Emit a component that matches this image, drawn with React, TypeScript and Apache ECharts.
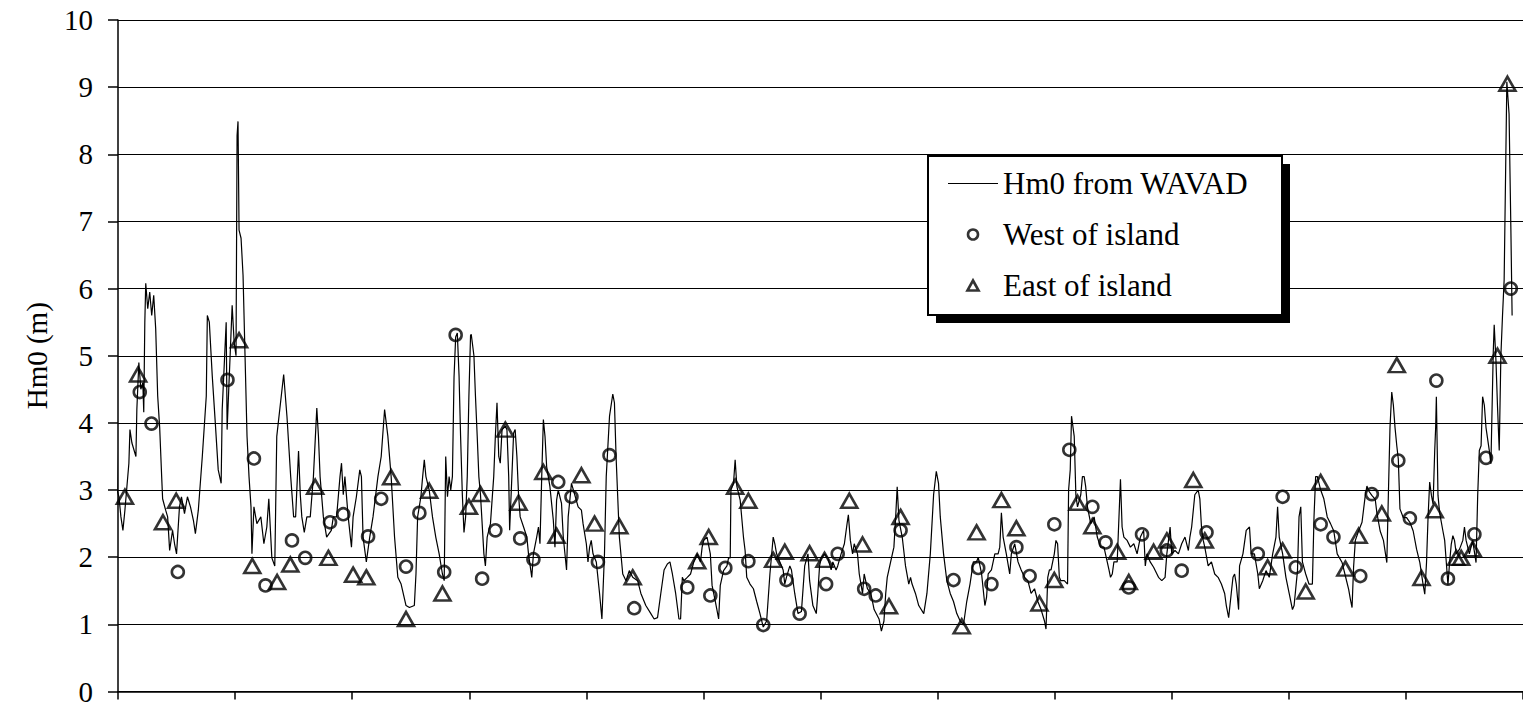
import React, { useEffect, useRef } from "react";
import * as echarts from "echarts";

// y-axis tick values (m)
const yTicks = [0, 1, 2, 3, 4, 5, 6, 7, 8, 9, 10];
// x-axis: time, one tick every 10 units, 12 tick intervals
const xTicks = [0, 10, 20, 30, 40, 50, 60, 70, 80, 90, 100, 110, 120];

const legendNames = ["Hm0 from WAVAD", "West of island", "East of island"];

// Hm0 from WAVAD: [time, Hm0 (m)]
const wavad: [number, number][] = [
  [-0.68, 4.3], [-0.59, 4.75], [-0.51, 3.6], [-0.42, 4.7], [-0.34, 4.4], [-0.25, 4.75], [-0.17, 4.0], [-0.08, 3.0],
  [0.08, 2.9], [0.25, 2.6], [0.42, 2.4], [0.59, 2.7], [0.76, 3.05], [0.93, 3.4], [1.02, 3.9], [1.19, 3.7],
  [1.36, 3.6], [1.53, 3.5], [1.61, 4.2], [1.78, 4.9], [1.95, 4.5], [2.12, 4.6], [2.2, 4.16], [2.29, 5.5],
  [2.37, 6.08], [2.54, 5.7], [2.71, 5.95], [2.88, 5.6], [3.05, 5.9], [3.22, 5.4], [3.39, 4.4], [3.56, 3.93],
  [3.73, 3.2], [3.81, 2.87], [4.07, 2.7], [4.24, 2.6], [4.41, 2.1], [4.66, 2.4], [4.83, 2.2], [5.0, 2.05],
  [5.25, 2.75], [5.42, 2.9], [5.68, 2.65], [5.93, 2.9], [6.19, 2.75], [6.44, 2.55], [6.61, 2.35], [6.86, 2.7],
  [7.2, 3.5], [7.54, 4.4], [7.63, 5.6], [7.8, 5.5], [8.05, 4.7], [8.31, 4.0], [8.56, 3.3], [8.81, 3.1],
  [8.9, 4.2], [9.24, 5.5], [9.32, 3.9], [9.75, 5.75], [9.92, 5.2], [10.08, 5.0], [10.17, 8.28], [10.25, 8.49],
  [10.34, 6.87], [10.51, 6.75], [10.68, 6.2], [10.85, 5.0], [11.02, 3.8], [11.19, 3.2], [11.36, 2.75], [11.44, 2.05],
  [11.61, 2.75], [11.86, 2.5], [12.2, 2.6], [12.46, 2.2], [12.71, 2.45], [12.88, 2.87], [13.14, 1.99], [13.39, 1.87],
  [13.56, 3.8], [14.15, 4.72], [14.43, 4.1], [14.75, 3.2], [15.0, 2.6], [15.17, 2.6], [15.42, 3.58], [15.57, 2.93],
  [15.7, 2.6], [15.91, 2.37], [16.13, 2.6], [16.42, 2.6], [16.69, 3.2], [16.98, 4.22], [17.12, 3.8], [17.26, 3.2],
  [17.54, 2.6], [17.82, 2.3], [18.22, 2.4], [18.39, 2.6], [18.67, 2.6], [18.96, 3.2], [19.09, 3.4], [19.24, 2.93],
  [19.38, 3.2], [19.66, 2.6], [19.94, 2.15], [20.08, 2.6], [20.36, 2.9], [20.65, 3.3], [20.79, 3.2], [20.93, 2.3],
  [21.21, 1.93], [21.5, 2.3], [21.78, 2.6], [22.2, 3.2], [22.48, 3.5], [22.77, 4.2], [23.05, 3.8], [23.33, 3.2],
  [23.62, 2.3], [23.9, 1.7], [24.18, 1.6], [24.6, 1.28], [24.89, 1.25], [25.31, 1.28], [25.45, 1.75], [25.59, 2.6],
  [25.87, 2.9], [26.02, 3.2], [26.16, 3.45], [26.3, 3.2], [26.58, 3.0], [26.86, 2.6], [27.14, 2.3], [27.43, 2.05],
  [27.71, 1.75], [27.86, 1.65], [27.99, 3.5], [28.14, 2.9], [28.28, 3.2], [28.42, 3.0], [28.56, 3.2], [28.7, 4.68],
  [28.84, 5.28], [28.98, 5.34], [29.13, 4.7], [29.26, 3.8], [29.41, 2.93], [29.55, 2.37], [29.69, 2.6], [29.83, 3.2],
  [29.97, 4.4], [30.11, 5.3], [30.17, 5.32], [30.4, 5.0], [30.53, 4.4], [30.68, 3.8], [30.82, 3.2], [30.96, 2.93],
  [31.25, 2.05], [31.38, 1.87], [31.53, 2.3], [31.67, 2.4], [31.81, 2.5], [32.09, 3.2], [32.23, 3.8], [32.37, 4.3],
  [32.52, 3.5], [32.65, 3.4], [32.8, 3.9], [33.08, 3.95], [33.22, 3.9], [33.37, 3.2], [33.45, 2.4], [33.64, 3.2],
  [33.79, 3.85], [33.92, 3.9], [34.07, 3.5], [34.21, 2.93], [34.35, 2.6], [34.64, 2.45], [34.92, 2.3], [35.06, 2.05],
  [35.34, 1.7], [35.48, 2.05], [35.76, 2.3], [35.91, 2.45], [36.04, 2.2], [36.19, 3.2], [36.33, 4.05], [36.47, 3.8],
  [36.61, 3.35], [36.89, 3.05], [37.18, 2.55], [37.32, 2.15], [37.46, 2.85], [37.6, 3.0], [37.74, 2.9], [37.88, 2.8],
  [38.03, 2.3], [38.31, 1.81], [38.45, 2.6], [38.59, 2.85], [38.73, 3.1], [39.01, 2.93], [39.3, 2.75], [39.58, 2.7],
  [39.72, 2.5], [40.0, 2.2], [40.14, 1.93], [40.28, 2.15], [40.42, 2.25], [40.57, 2.05], [40.85, 1.93], [41.13, 1.46],
  [41.33, 1.08], [41.55, 2.05], [41.7, 3.2], [41.98, 4.1], [42.26, 4.43], [42.4, 4.3], [42.54, 3.5], [42.82, 2.3],
  [43.11, 1.75], [43.39, 1.65], [43.67, 1.8], [43.96, 1.7], [44.38, 1.65], [44.66, 1.46], [45.08, 1.28], [45.51, 1.16],
  [45.79, 1.08], [46.08, 1.1], [46.36, 1.46], [46.64, 1.81], [46.92, 1.9], [47.14, 1.93], [47.35, 1.75], [47.63, 1.46],
  [47.91, 1.08], [48.05, 1.08], [48.2, 1.7], [48.33, 1.65], [48.62, 1.7], [48.9, 1.75], [49.18, 1.93], [49.47, 2.05],
  [49.75, 1.93], [49.89, 2.15], [50.03, 2.25], [50.31, 2.3], [50.59, 2.05], [50.74, 1.58], [51.02, 1.34], [51.3, 1.08],
  [51.44, 1.58], [51.72, 1.8], [52.01, 1.87], [52.15, 1.99], [52.29, 1.99], [52.35, 3.0], [52.57, 3.1], [52.71, 3.45],
  [52.86, 3.05], [53.14, 2.85], [53.42, 2.3], [53.56, 2.1], [53.7, 1.7], [53.98, 1.6], [54.27, 1.53], [54.55, 1.34],
  [54.83, 1.16], [55.11, 0.96], [55.4, 1.05], [55.68, 1.75], [55.96, 2.3], [56.1, 2.2], [56.25, 2.05], [56.53, 1.93],
  [56.81, 1.81], [56.95, 1.6], [57.09, 1.7], [57.38, 1.87], [57.52, 1.81], [57.8, 1.46], [58.08, 1.16], [58.37, 1.19],
  [58.65, 1.87], [58.93, 2.05], [59.07, 1.65], [59.35, 1.28], [59.64, 1.16], [59.77, 1.46], [59.92, 1.87], [60.06, 1.99],
  [60.34, 2.05], [60.62, 1.99], [60.91, 1.81], [61.05, 1.93], [61.33, 1.81], [61.47, 1.87], [61.76, 2.05], [62.04, 2.2],
  [62.27, 2.5], [62.38, 2.63], [62.55, 2.25], [62.74, 2.05], [62.88, 2.2], [63.16, 2.05], [63.31, 1.75], [63.59, 1.46],
  [63.73, 1.75], [64.01, 1.53], [64.3, 1.46], [64.58, 1.22], [65.0, 1.08], [65.2, 0.9], [65.42, 1.05], [65.57, 1.46],
  [65.7, 1.7], [65.99, 1.93], [66.27, 2.15], [66.42, 2.6], [66.55, 3.05], [66.7, 2.55], [66.98, 2.3], [67.26, 1.87],
  [67.54, 1.6], [67.69, 1.7], [67.82, 1.6], [68.11, 1.46], [68.39, 1.28], [68.82, 1.16], [69.09, 1.46], [69.38, 2.05],
  [69.66, 2.93], [69.89, 3.28], [70.08, 3.1], [70.23, 2.6], [70.51, 2.05], [70.79, 1.65], [71.08, 1.46], [71.36, 1.34],
  [71.64, 1.16], [71.93, 1.05], [72.21, 0.99], [72.49, 1.34], [72.77, 1.6], [73.05, 1.93], [73.33, 1.93], [73.47, 2.0],
  [73.76, 1.75], [74.04, 1.28], [74.18, 1.4], [74.32, 1.75], [74.6, 1.81], [74.89, 2.05], [75.17, 2.05], [75.31, 2.15],
  [75.45, 2.66], [75.6, 2.3], [75.87, 2.05], [76.16, 1.75], [76.3, 2.05], [76.59, 2.2], [76.87, 1.93], [77.14, 1.81],
  [77.43, 1.7], [77.71, 1.65], [77.99, 1.46], [78.28, 1.53], [78.56, 1.34], [78.84, 1.22], [79.13, 1.05], [79.26, 0.93],
  [79.41, 1.7], [79.55, 1.81], [79.69, 1.81], [79.97, 2.05], [80.11, 2.25], [80.25, 2.2], [80.4, 1.7], [80.53, 1.65],
  [80.82, 1.65], [81.1, 1.6], [81.19, 3.0], [81.33, 3.3], [81.44, 4.1], [81.67, 3.8], [81.81, 2.93], [81.95, 2.75],
  [82.23, 2.93], [82.37, 3.2], [82.52, 3.2], [82.65, 3.05], [82.8, 2.75], [83.08, 2.5], [83.37, 2.6], [83.64, 2.3],
  [83.92, 2.15], [84.21, 2.15], [84.49, 1.93], [84.64, 1.81], [84.77, 1.7], [84.92, 1.75], [85.06, 1.93], [85.34, 1.93],
  [85.62, 3.16], [85.76, 2.45], [85.91, 2.3], [86.19, 2.25], [86.47, 2.15], [86.76, 2.2], [87.04, 2.05], [87.32, 2.3],
  [87.6, 2.4], [87.74, 1.87], [87.88, 2.05], [88.16, 1.93], [88.45, 1.85], [88.87, 1.7], [89.15, 1.65], [89.43, 1.7],
  [89.58, 2.05], [89.86, 2.45], [90.0, 2.05], [90.28, 2.1], [90.57, 2.05], [90.85, 2.2], [91.13, 2.3], [91.42, 2.1],
  [91.55, 2.3], [91.7, 2.45], [91.97, 2.93], [92.26, 3.0], [92.4, 2.87], [92.54, 2.45], [92.69, 2.25], [92.82, 2.15],
  [93.11, 1.87], [93.39, 1.93], [93.67, 1.75], [93.96, 1.7], [94.24, 1.6], [94.52, 1.46], [94.66, 1.28], [94.86, 1.1],
  [95.08, 1.46], [95.23, 1.7], [95.37, 1.75], [95.51, 1.6], [95.71, 1.22], [95.79, 1.87], [96.08, 2.05], [96.36, 2.4],
  [96.64, 2.45], [96.78, 2.05], [97.06, 2.05], [97.35, 1.75], [97.48, 1.53], [97.77, 1.65], [98.05, 1.8], [98.33, 1.7],
  [98.62, 2.05], [98.9, 2.3], [99.04, 2.75], [99.18, 2.3], [99.47, 2.05], [99.75, 1.7], [100.03, 1.46], [100.31, 1.22],
  [100.45, 1.28], [100.74, 1.8], [100.87, 2.6], [101.02, 2.75], [101.16, 1.93], [101.44, 1.75], [101.72, 1.6], [102.01, 1.6],
  [102.15, 2.6], [102.29, 3.2], [102.44, 3.2], [102.72, 3.0], [102.99, 2.87], [103.28, 2.6], [103.56, 2.5], [103.84, 2.39],
  [104.13, 2.05], [104.55, 1.92], [104.83, 1.72], [105.11, 1.52], [105.25, 1.38], [105.4, 1.25], [105.53, 1.85], [105.68, 2.25],
  [105.96, 2.39], [106.25, 2.52], [106.53, 2.92], [106.67, 3.06], [106.81, 2.99], [107.09, 2.92], [107.38, 2.86], [107.52, 2.66],
  [107.8, 2.39], [108.08, 2.25], [108.37, 1.92], [108.5, 2.92], [108.64, 3.93], [108.79, 4.46], [108.93, 4.26], [109.07, 3.93],
  [109.22, 3.66], [109.35, 3.46], [109.49, 2.72], [109.77, 2.59], [110.06, 2.59], [110.34, 2.52], [110.62, 2.39], [110.91, 2.12],
  [111.19, 1.92], [111.47, 1.59], [111.61, 1.45], [111.76, 1.92], [111.89, 2.59], [112.03, 3.12], [112.18, 2.92], [112.32, 2.79],
  [112.46, 3.59], [112.54, 3.93], [112.6, 4.39], [112.74, 2.92], [112.88, 2.66], [113.16, 2.39], [113.31, 2.25], [113.45, 1.92],
  [113.59, 1.59], [113.73, 1.92], [113.87, 2.19], [114.01, 2.32], [114.15, 2.25], [114.3, 2.05], [114.58, 2.12], [114.86, 2.25],
  [115.0, 2.45], [115.14, 2.25], [115.42, 2.05], [115.7, 2.25], [115.99, 1.92], [116.13, 2.92], [116.27, 3.59], [116.42, 3.66],
  [116.55, 4.39], [116.7, 4.26], [116.84, 3.93], [117.12, 3.59], [117.26, 3.39], [117.46, 5.06], [117.54, 5.46], [117.69, 4.93],
  [117.82, 4.26], [117.97, 3.59], [118.11, 5.0], [118.25, 5.6], [118.39, 6.13], [118.62, 9.08], [118.81, 8.6], [118.96, 6.94],
  [119.07, 5.6],
];

// West of island measurements: [time, Hm0 (m)]
const west: [number, number][] = [
  [1.86, 4.46], [2.86, 3.99], [5.11, 1.78], [9.35, 4.64], [11.61, 3.47], [12.6, 1.58], [14.86, 2.25], [15.99, 1.99],
  [18.11, 2.52], [19.24, 2.64], [21.36, 2.31], [22.48, 2.87], [24.6, 1.86], [25.74, 2.66], [27.86, 1.78], [28.84, 5.31],
  [31.1, 1.68], [32.23, 2.4], [34.35, 2.28], [35.48, 1.97], [37.6, 3.12], [38.73, 2.9], [40.99, 1.93], [41.98, 3.52],
  [44.09, 1.24], [48.62, 1.55], [50.59, 1.43], [51.87, 1.84], [53.84, 1.94], [55.11, 0.99], [57.09, 1.66], [58.22, 1.16],
  [60.48, 1.6], [61.47, 2.05], [63.73, 1.53], [64.72, 1.43], [66.84, 2.4], [71.36, 1.66], [73.47, 1.84], [74.6, 1.6],
  [76.73, 2.15], [77.86, 1.72], [79.97, 2.49], [81.25, 3.6], [83.22, 2.75], [84.35, 2.22], [86.33, 1.55], [87.46, 2.34],
  [89.58, 2.1], [90.85, 1.8], [92.97, 2.37], [97.35, 2.05], [99.47, 2.9], [100.59, 1.85], [102.72, 2.49], [103.81, 2.3],
  [106.1, 1.72], [107.09, 2.94], [109.35, 3.44], [110.34, 2.58], [112.6, 4.63], [113.59, 1.68], [115.85, 2.34], [116.84, 3.48],
  [118.96, 6.0],
];

// East of island measurements: [time, Hm0 (m)]
const east: [number, number][] = [
  [0.59, 2.9], [1.72, 4.72], [3.84, 2.52], [4.97, 2.84], [10.34, 5.23], [11.47, 1.87], [13.59, 1.63], [14.72, 1.89],
  [16.84, 3.05], [17.97, 1.99], [20.08, 1.74], [21.21, 1.7], [23.33, 3.19], [24.6, 1.08], [26.58, 2.99], [27.71, 1.46],
  [29.97, 2.75], [30.96, 2.94], [33.08, 3.9], [34.21, 2.81], [36.33, 3.27], [37.46, 2.32], [39.58, 3.22], [40.7, 2.5],
  [42.82, 2.46], [43.96, 1.7], [49.47, 1.94], [50.45, 2.3], [52.71, 3.05], [53.84, 2.84], [55.96, 1.96], [56.95, 2.08],
  [59.07, 2.06], [60.34, 1.96], [62.46, 2.84], [63.59, 2.19], [65.85, 1.27], [66.84, 2.6], [72.06, 0.97], [73.33, 2.37],
  [75.45, 2.85], [76.73, 2.43], [78.7, 1.31], [79.97, 1.66], [81.95, 2.81], [83.22, 2.46], [85.34, 2.08], [86.33, 1.63],
  [88.45, 2.08], [89.58, 2.25], [91.84, 3.15], [92.82, 2.25], [98.19, 1.85], [99.47, 2.1], [101.44, 1.49], [102.72, 3.12],
  [104.83, 1.83], [105.96, 2.32], [107.94, 2.65], [109.22, 4.86], [111.33, 1.69], [112.46, 2.7], [114.3, 1.99], [114.72, 1.99],
  [115.7, 2.12], [117.82, 5.0], [118.67, 9.05],
];

const FONT = "Liberation Serif";

export default function App() {
  const ref = useRef<HTMLDivElement>(null);

  useEffect(() => {
    if (!ref.current) return;
    const chart = echarts.init(ref.current, null, { renderer: "svg" });
    const hollow = { color: "rgba(0,0,0,0)", borderColor: "#000", borderWidth: 2.6 };
    chart.setOption({
      animation: false,
      backgroundColor: "#fff",
      grid: { left: 118, top: 20, right: -11, bottom: 14, containLabel: false },
      xAxis: {
        type: "value",
        min: xTicks[0],
        max: xTicks[xTicks.length - 1],
        interval: xTicks[1] - xTicks[0],
        axisLine: { show: true, onZero: false, lineStyle: { color: "#000", width: 1.5 } },
        axisTick: { show: true, inside: false, length: 8, lineStyle: { color: "#000", width: 1.5 } },
        axisLabel: { show: false },
        splitLine: { show: false },
      },
      yAxis: {
        type: "value",
        min: yTicks[0],
        max: yTicks[yTicks.length - 1],
        interval: yTicks[1] - yTicks[0],
        name: "Hm0 (m)",
        nameLocation: "middle",
        nameRotate: 90,
        nameGap: 67,
        nameTextStyle: { fontFamily: FONT, fontSize: 29, color: "#000" },
        axisLine: { show: true, onZero: false, lineStyle: { color: "#000", width: 1.5 } },
        axisTick: { show: true, inside: false, length: 10, lineStyle: { color: "#000", width: 1.5 } },
        axisLabel: { show: true, margin: 25, fontFamily: FONT, fontSize: 29, color: "#000" },
        splitLine: { show: true, lineStyle: { color: "#000", width: 1 } },
      },
      legend: {
        data: [
          {
            name: legendNames[0],
            icon: "path://M0,0H50V1.2H0Z",
            itemStyle: { color: "#000", borderWidth: 0 },
          },
          {
            name: legendNames[1],
            icon: "circle",
            itemStyle: { color: "rgba(0,0,0,0)", borderColor: "#000", borderWidth: 2.6 },
          },
          {
            name: legendNames[2],
            icon: "path://M5,0L10,9L0,9Z",
            itemStyle: { color: "rgba(0,0,0,0)", borderColor: "#000", borderWidth: 2.6 },
          },
        ],
        orient: "vertical",
        left: 948,
        top: 168,
        padding: 0,
        itemWidth: 50,
        itemHeight: 10,
        itemGap: 20,
        symbolKeepAspect: true,
        selectedMode: false,
        z: 10,
        textStyle: { fontFamily: FONT, fontSize: 31, color: "#000", lineHeight: 30 },
      },
      graphic: [
        { type: "rect", z: 5, silent: true, shape: { x: 936, y: 164, width: 354, height: 159 }, style: { fill: "#000" } },
        { type: "rect", z: 6, silent: true, shape: { x: 928, y: 156, width: 354, height: 159 }, style: { fill: "#fff", stroke: "#000", lineWidth: 2 } },
      ],
      series: [
        {
          name: legendNames[0],
          type: "line",
          data: wavad,
          symbol: "none",
          showSymbol: false,
          clip: false,
          z: 2,
          lineStyle: { color: "#000", width: 1.2 },
          itemStyle: { color: "#000" },
        },
        {
          name: legendNames[1],
          type: "scatter",
          data: west,
          symbol: "circle",
          symbolSize: 12,
          clip: false,
          z: 3,
          itemStyle: hollow,
        },
        {
          name: legendNames[2],
          type: "scatter",
          data: east,
          symbol: "triangle",
          symbolSize: [16, 14],
          clip: false,
          z: 3,
          itemStyle: hollow,
        },
      ],
    });
    return () => chart.dispose();
  }, []);

  return (
    <div
      ref={ref}
      style={{ position: "fixed", left: 0, top: 0, width: 1523, height: 706, background: "#fff" }}
    />
  );
}
